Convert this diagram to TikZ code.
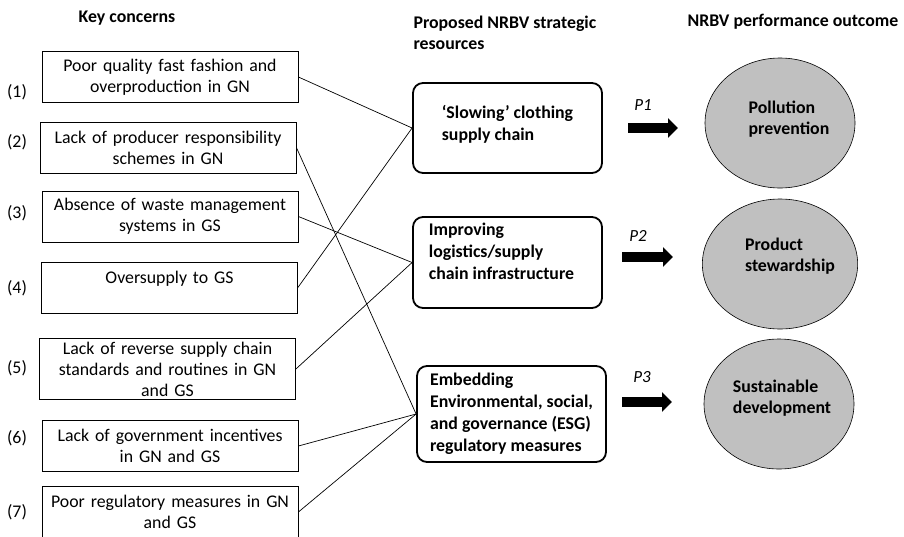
\documentclass[tikz,border=0pt]{standalone}
\usepackage{fontspec}
\setmainfont{Carlito}
\usetikzlibrary{arrows.meta,shapes.geometric}
\definecolor{outcomegray}{RGB}{192,192,192}
\tikzset{
  concern/.style={draw, line width=0.8pt, minimum width=256pt, minimum height=51pt,
    text width=250pt, inner xsep=3pt, align=center, font=\fontsize{17.8}{21}\selectfont},
  resource/.style={draw, line width=1.8pt, rounded corners=10pt, minimum width=189pt,
    align=left, font=\bfseries\fontsize{17.8}{22}\selectfont},
  outcome/.style={ellipse, draw, fill=outcomegray, line width=0.6pt, minimum width=150pt,
    minimum height=130pt, inner sep=0pt, align=left, font=\bfseries\fontsize{17.8}{21}\selectfont},
  heading/.style={font=\bfseries\fontsize{17.8}{21}\selectfont, align=left},
  link/.style={line width=0.7pt},
  bigarrow/.style={line width=10pt, -{Triangle[length=10pt,width=19pt]}},
}
\begin{document}
\begin{tikzpicture}[x=1pt,y=-1pt]
  \useasboundingbox (0,0) rectangle (904,536);
  % headings
  \node[heading] (hconcern) at (127,18) {Key concerns};
  \node[heading, anchor=north west] (hresource) at (410,12) {Proposed NRBV strategic\\resources};
  \node[heading, anchor=west] (houtcome) at (684,22) {NRBV performance outcome};
  % key concerns
  \foreach \n/\x/\y/\ly/\txt in {1/170/77/92/{Poor quality fast fashion and\\overproduction in GN},
            2/168/147.5/142/{Lack of producer responsibility\\schemes in GN},
            3/170/216.5/213/{Absence of waste management\\systems in GS},
            4/169.5/287.5/288/{Oversupply to GS\\~},
            5/167.5/369/368/{Lack of reverse supply chain\\standards and routines in GN\\and GS},
            6/170/446/438/{Lack of government incentives\\in GN and GS},
            7/170/512/512/{Poor regulatory measures in GN\\and GS}}
  {
    \node[concern] (c\n) at (\x,\y) {\txt};
    \node[font=\fontsize{17.8}{21}\selectfont] (n\n) at (17,\ly) {(\n)};
  }
  % strategic resources
  \node[resource, minimum height=90pt] (slow) at (507.5,128)
    {`Slowing' clothing\\supply chain\\[-11pt]\mbox{}};
  \node[resource, minimum height=91pt] (logi) at (507.5,262.5)
    {Improving\\logistics/supply\\chain infrastructure\rule{12pt}{0pt}\\\mbox{}};
  \node[resource, minimum height=96pt] (esg) at (511.5,414)
    {Embedding\\Environmental, social,\\and governance (ESG)\\regulatory measures};
  % performance outcomes
  \node[outcome] (pollu) at (780,123)
    {\hspace*{18pt}Pollution\\\hspace*{18pt}prevention\\[-11pt]\mbox{}};
  \node[outcome] (stew) at (780,264)
    {\hspace*{20pt}Product\\\hspace*{20pt}stewardship\\[-3pt]\mbox{}};
  \node[outcome] (sust) at (779,404)
    {\hspace*{6pt}Sustainable\\\hspace*{6pt}development\\[-6pt]\mbox{}};
  % links
  \draw[link] (c1.east) -- (slow.west);
  \draw[link] (c4.east) -- (slow.west);
  \draw[link] (c3.east) -- (logi.west);
  \draw[link] (c5.east) -- (logi.west);
  \draw[link] (c2.east) -- (esg.west);
  \draw[link] (c6.east) -- (esg.west);
  \draw[link] (c7.east) -- (esg.west);
  % propositions
  \coordinate (p1s) at (628,128);
  \coordinate (p1e) at (678,128);
  \coordinate (p2s) at (622,257);
  \coordinate (p2e) at (673,257);
  \coordinate (p3s) at (622,402);
  \coordinate (p3e) at (672,402);
  \draw[bigarrow] (p1s) -- (p1e);
  \draw[bigarrow] (p2s) -- (p2e);
  \draw[bigarrow] (p3s) -- (p3e);
  \node[font=\itshape\fontsize{17}{21}\selectfont] (lp1) at (643,105) {P1};
  \node[font=\itshape\fontsize{17}{21}\selectfont] (lp2) at (638,236) {P2};
  \node[font=\itshape\fontsize{17}{21}\selectfont] (lp3) at (642,377) {P3};
\end{tikzpicture}
\end{document}
